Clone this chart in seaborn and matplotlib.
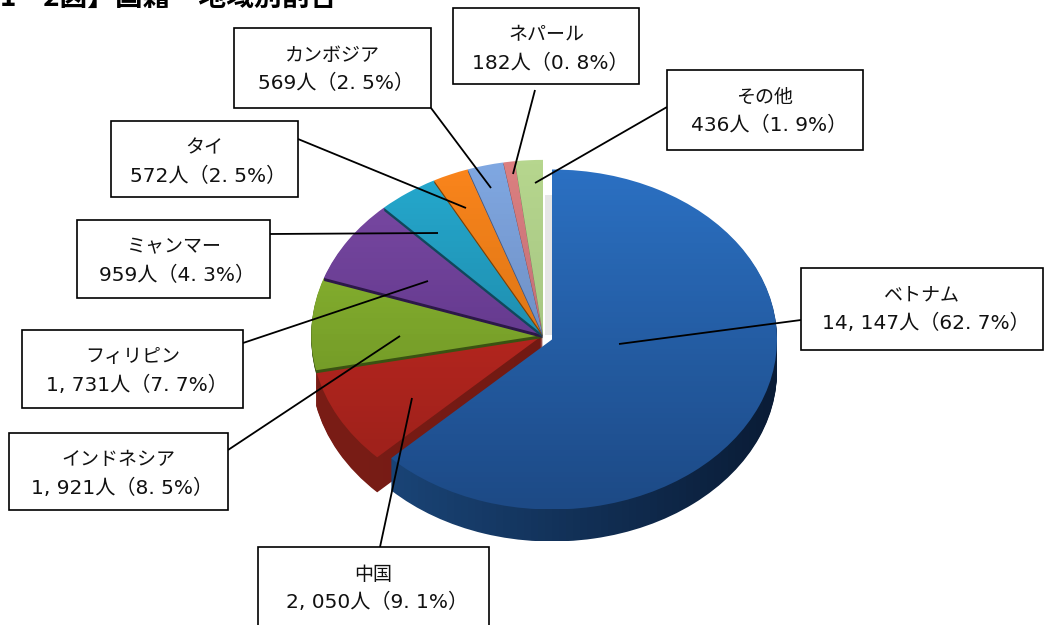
import numpy as np
import matplotlib
matplotlib.use("Agg")
import matplotlib.pyplot as plt
from matplotlib.patches import Rectangle
import seaborn as sns

sns.set_theme(style="white")
plt.rcParams["font.family"] = ["DejaVu Sans", "Noto Sans CJK JP"]
JP = ["Noto Sans CJK JP", "DejaVu Sans"]

# data
names = ["ベトナム", "中国", "インドネシア", "フィリピン", "ミャンマー", "タイ", "カンボジア", "ネパール", "その他"]
people = [14147, 2050, 1921, 1731, 959, 572, 569, 182, 436]
value_labels = ["14, 147人（62. 7%）", "2, 050人（9. 1%）", "1, 921人（8. 5%）", "1, 731人（7. 7%）",
                "959人（4. 3%）", "572人（2. 5%）", "569人（2. 5%）", "182人（0. 8%）", "436人（1. 9%）"]

# colours: top of face, bottom of face, side light, side dark
face_top = ["#2b70c2", "#d02a22", "#92c035", "#7c4ba6", "#25aad0", "#fb851c", "#80a8e2", "#dc8080", "#b6d68e"]
face_bot = ["#1d4a86", "#96201a", "#62851f", "#4f2a78", "#1a7490", "#c0680f", "#6078a8", "#a86070", "#98b878"]
side_lo = ["#1c4a80", "#7a1d16", "#3a5212", "#2c1848", "#10485c", "#7a4208", "#485a80", "#704048", "#607848"]
side_hi = ["#0a1c36", "#6a1610", "#3a5212", "#2c1848", "#10485c", "#7a4208", "#485a80", "#704048", "#607848"]
depth = [32, 35, 3, 3, 3, 2, 2, 1, 1]

# label boxes and leader lines, in pixels of the picture
boxes = [(801, 268, 1043, 350), (258, 547, 489, 640), (9, 433, 228, 510), (22, 330, 243, 408), (77, 220, 270, 298),
         (111, 121, 298, 197), (234, 28, 431, 108), (453, 8, 639, 84), (667, 70, 863, 150)]
leaders = [((801, 320), (619, 344)), ((380, 547), (412, 398)), ((228, 450), (400, 336)), ((243, 343), (428, 281)),
           ((270, 234), (438, 233)), ((298, 139), (466, 208)), ((431, 108), (491, 188)), ((535, 90), (513, 174)),
           ((667, 107), (535, 183))]

W, H = 1045, 625
RX, RY = 225, 170  # size of one pie radius in pixels


def to_pie(px, py):
    return px / RX, (H - py) / RY


def draw_wedge(ax, idx, cpx, cpy, radius, colors, horizontal, z):
    center = to_pie(cpx, cpy)
    wedges, _ = ax.pie(people, startangle=90, counterclock=False, center=center, radius=radius)
    for i, w in enumerate(wedges):
        if i == idx:
            w.set_visible(False)
        else:
            w.remove()
    grad = np.linspace(0, 1, 64).reshape(1, -1) if horizontal else np.linspace(0, 1, 64).reshape(-1, 1)
    cmap = sns.blend_palette(colors, n_colors=64, as_cmap=True)
    im = ax.imshow(grad, cmap=cmap, aspect="auto", origin="upper", zorder=z, vmin=0, vmax=1,
                   extent=(center[0] - radius, center[0] + radius, center[1] - radius, center[1] + radius))
    im.set_clip_path(wedges[idx])


fig = plt.figure(figsize=(W / 100, H / 100), dpi=100, facecolor="white")
ax = fig.add_axes([0, 0, 1, 1])

# faint shadow between the separated slices
z = 1
ax.add_patch(Rectangle(to_pie(545, 335), 8 / RX, 140 / RY, facecolor="#e6e6e6", edgecolor="none", zorder=z))

# the rest of the pie, drawn from the red slice round to the last slice
for idx in list(range(1, len(people))) + [0]:
    cpx, cpy, rad = (552, 339.5, 1.0) if idx == 0 else (543, 335, 1.03)
    for step in range(depth[idx], 0, -1):
        z += 1
        draw_wedge(ax, idx, cpx, cpy + step, rad, [side_lo[idx], side_hi[idx]], True, z)
    z += 1
    draw_wedge(ax, idx, cpx, cpy, rad, [face_top[idx], face_bot[idx]], False, z)

ax.set_aspect("auto")
ax.set_xlim(0, W / RX)
ax.set_ylim(0, H / RY)
ax.axis("off")

# labels on top
over = fig.add_axes([0, 0, 1, 1], facecolor="none")
over.set_xlim(0, W)
over.set_ylim(H, 0)
over.axis("off")

for (p0, p1) in leaders:
    over.plot([p0[0], p1[0]], [p0[1], p1[1]], color="black", lw=1.3, solid_capstyle="butt", zorder=3)

for name, value, (x0, y0, x1, y1) in zip(names, value_labels, boxes):
    over.add_patch(Rectangle((x0, y0), x1 - x0, y1 - y0, facecolor="white", edgecolor="black", lw=1.2, zorder=4))
    xc = (x0 + x1) / 2
    over.text(xc, y0 + 27, name, ha="center", va="center", fontsize=13.7, family=JP, color="#111111", zorder=5)
    over.text(xc + 4, y0 + 55, value, ha="center", va="center", fontsize=14.5, color="#111111", zorder=5)

fig.text(0, 1 - 6 / H, "1－2図】国籍・地域別割合", fontsize=20, fontweight="bold", family=JP,
         ha="left", va="baseline", color="black")

fig.savefig("out.png", dpi=100)
